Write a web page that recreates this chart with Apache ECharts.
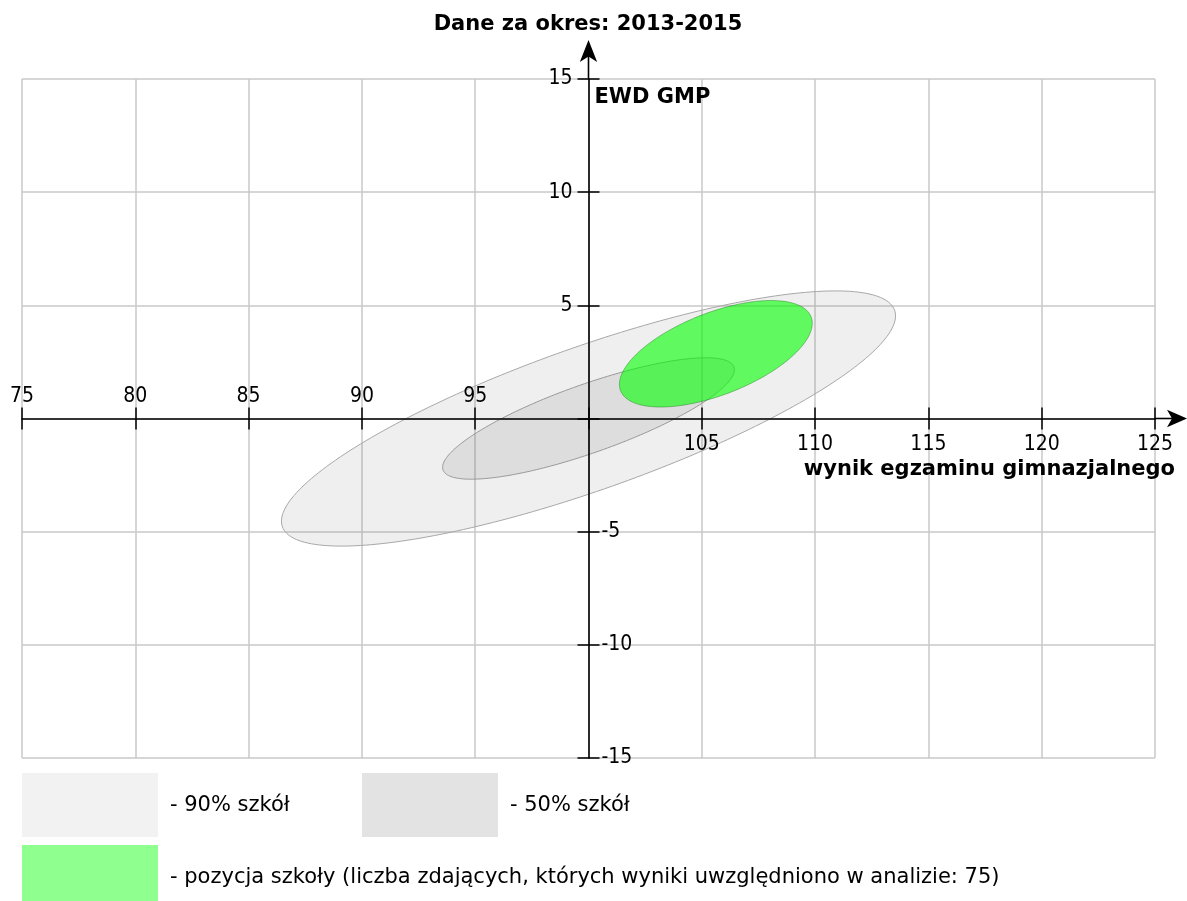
<!DOCTYPE html>
<html><head><meta charset="utf-8">
<script src="https://cdn.jsdelivr.net/npm/echarts@6/dist/echarts.min.js"></script>
<style>html,body{margin:0;padding:0;background:#fff}#c{width:1187px;height:901px}</style>
</head><body><div id="c"></div>
<script>
const chartTitle = 'Dane za okres: 2013-2015';
const xAxisName = 'wynik egzaminu gimnazjalnego';
const yAxisName = 'EWD GMP';
const xTicks = [75, 80, 85, 90, 95, 100, 105, 110, 115, 120, 125];
const yTicks = [-15, -10, -5, 0, 5, 10, 15];
const xCross = 100;
const yCross = 0;
const ellipseNames = ['90% szkół', '50% szkół', 'pozycja szkoły'];
const ellipseCenterX = [100, 100, 105.62];
const ellipseCenterY = [0, 0, 2.86];
const ellipseSemiMajor = [14.33, 6.81, 4.51];
const ellipseSemiMinor = [3.165, 1.51, 1.82];
const ellipseAngleDeg = [19.5, 19.5, 21.2];
const legendLabels = ['- 90% szkół', '- 50% szkół', '- pozycja szkoły (liczba zdających, których wyniki uwzględniono w analizie: 75)'];

const FONT = "'DejaVu Sans Condensed', 'DejaVu Sans', sans-serif";
const FONT_R = "'DejaVu Sans', sans-serif";
const GRID = {left: 22, top: 79, width: 1133, height: 679};
const xMin = xTicks[0], xMax = xTicks[xTicks.length - 1];
const yMin = yTicks[0], yMax = yTicks[yTicks.length - 1];
const step = xTicks[1] - xTicks[0];
const yStep = yTicks[1] - yTicks[0];
const yAxisOffset = -GRID.width * (xCross - xMin) / (xMax - xMin);
const xAxisOffset = -GRID.height * (yCross - yMin) / (yMax - yMin);

const chart = echarts.init(document.getElementById('c'), null, {renderer: 'canvas'});

function ellipseSeries(i, fill, stroke) {
  return {
    type: 'custom', name: ellipseNames[i], coordinateSystem: 'cartesian2d',
    xAxisIndex: 0, yAxisIndex: 0, clip: false, silent: true, z: 2,
    data: [[ellipseCenterX[i], ellipseCenterY[i], ellipseSemiMajor[i], ellipseSemiMinor[i], ellipseAngleDeg[i]]],
    encode: {x: 0, y: 1},
    renderItem: function (params, api) {
      const cx = api.value(0), cy = api.value(1), a = api.value(2), b = api.value(3);
      const th = api.value(4) * Math.PI / 180;
      const pts = [];
      const N = 240;
      for (let k = 0; k < N; k++) {
        const t = k / N * 2 * Math.PI;
        const dx = a * Math.cos(t) * Math.cos(th) - b * Math.sin(t) * Math.sin(th);
        const dy = a * Math.cos(t) * Math.sin(th) + b * Math.sin(t) * Math.cos(th);
        pts.push(api.coord([cx + dx, cy + dy]));
      }
      return {type: 'polygon', shape: {points: pts}, style: {fill: fill, stroke: stroke, lineWidth: 1}};
    }
  };
}

const baseX = {type: 'value', min: xMin, max: xMax, interval: step, gridIndex: 0, position: 'bottom', offset: xAxisOffset};
const baseY = {type: 'value', min: yMin, max: yMax, interval: yStep, gridIndex: 0, position: 'left', offset: yAxisOffset};
const axisLineStyle = {color: '#000', width: 1.6};
const labelStyle = {color: '#000', fontSize: 21, fontFamily: FONT, showMinLabel: true, showMaxLabel: true};

const option = {
  animation: false,
  backgroundColor: '#fff',
  grid: {left: GRID.left, top: GRID.top, width: GRID.width, height: GRID.height, containLabel: false},
  xAxis: [
    {type: 'value', min: xMin, max: xMax, interval: step, gridIndex: 0, position: 'bottom',
      z: 0, axisLine: {show: false}, axisTick: {show: false}, axisLabel: {show: false},
      splitLine: {show: true, lineStyle: {color: '#c8c8c8', width: 1.5}}},
    Object.assign({}, baseX, {
      z: 5, axisLine: {show: true, onZero: false, lineStyle: axisLineStyle, symbol: ['none', 'arrow'], symbolSize: [13, 20], symbolOffset: [0, 32]},
      axisTick: {show: true, inside: true, length: 11, lineStyle: {color: '#000', width: 1.5}},
      axisLabel: Object.assign({}, labelStyle, {inside: true, margin: 11, formatter: v => (v < xCross ? String(v) : '')}),
      splitLine: {show: false}
    }),
    Object.assign({}, baseX, {
      z: 5, axisLine: {show: false, onZero: false},
      axisTick: {show: true, inside: false, length: 11, lineStyle: {color: '#000', width: 1.5}},
      axisLabel: Object.assign({}, labelStyle, {inside: false, margin: 16, formatter: v => (v > xCross ? String(v) : '')}),
      splitLine: {show: false}
    })
  ],
  yAxis: [
    {type: 'value', min: yMin, max: yMax, interval: yStep, gridIndex: 0, position: 'left',
      z: 0, axisLine: {show: false}, axisTick: {show: false}, axisLabel: {show: false},
      splitLine: {show: true, lineStyle: {color: '#c8c8c8', width: 1.5}}},
    Object.assign({}, baseY, {
      z: 5, axisLine: {show: true, onZero: false, lineStyle: axisLineStyle, symbol: ['none', 'arrow'], symbolSize: [13, 22], symbolOffset: [0, 39]},
      axisTick: {show: true, inside: false, length: 11, lineStyle: {color: '#000', width: 1.5}},
      axisLabel: Object.assign({}, labelStyle, {inside: false, margin: 16, padding: [4, 0, 0, 0], formatter: v => (v > yCross ? String(v) : '')}),
      splitLine: {show: false},
      name: yAxisName, nameLocation: 'end', nameGap: -8,
      nameTextStyle: {fontFamily: FONT_R, fontWeight: 'bold', fontSize: 21, color: '#000', align: 'left', verticalAlign: 'top', padding: [0, 0, 0, 6]}
    }),
    Object.assign({}, baseY, {
      z: 5, axisLine: {show: false, onZero: false},
      axisTick: {show: true, inside: true, length: 11, lineStyle: {color: '#000', width: 1.5}},
      axisLabel: Object.assign({}, labelStyle, {inside: true, margin: 13, padding: [4, 0, 0, 0], formatter: v => (v < yCross ? String(v) : '')}),
      splitLine: {show: false}
    })
  ],
  title: {
    text: chartTitle, left: 583, top: 9, textAlign: 'center',
    textStyle: {fontFamily: FONT_R, fontWeight: 'bold', fontSize: 21, color: '#000'}
  },
  series: [
    ellipseSeries(0, 'rgba(100,100,100,0.10)', '#a8a8a8'),
    ellipseSeries(1, 'rgba(100,100,100,0.13)', '#9a9a9a'),
    ellipseSeries(2, 'rgba(0,255,0,0.6)', 'rgba(0,90,0,0.35)')
  ]
};
chart.setOption(option);

const pEndX = chart.convertToPixel({xAxisIndex: 1, yAxisIndex: 0}, [xMax, yCross]);
const pEndY = chart.convertToPixel({xAxisIndex: 1, yAxisIndex: 1}, [xCross, yMax]);
const yAxisPx = GRID.left - yAxisOffset;
chart.setOption({
  graphic: [
    {type: 'line', z: 10, shape: {x1: pEndX[0], y1: pEndX[1], x2: pEndX[0] + 26, y2: pEndX[1]}, style: {stroke: '#000', lineWidth: 1.6}},
    {type: 'line', z: 10, shape: {x1: yAxisPx, y1: pEndY[1], x2: yAxisPx, y2: pEndY[1] - 32}, style: {stroke: '#000', lineWidth: 1.6}},
    {type: 'text', z: 10, style: {text: xAxisName, x: 1175, y: 470, align: 'right', verticalAlign: 'middle', font: 'bold 21px ' + FONT_R, fill: '#000'}},
    {type: 'rect', shape: {x: 22, y: 773, width: 136, height: 64}, style: {fill: '#f2f2f2'}},
    {type: 'rect', shape: {x: 362, y: 773, width: 136, height: 64}, style: {fill: '#e3e3e3'}},
    {type: 'rect', shape: {x: 22, y: 845, width: 136, height: 60}, style: {fill: '#8fff8f'}},
    {type: 'text', style: {text: legendLabels[0], x: 170, y: 806, verticalAlign: 'middle', font: '21px ' + FONT_R, fill: '#000'}},
    {type: 'text', style: {text: legendLabels[1], x: 510, y: 806, verticalAlign: 'middle', font: '21px ' + FONT_R, fill: '#000'}},
    {type: 'text', style: {text: legendLabels[2], x: 170, y: 878, verticalAlign: 'middle', font: '21px ' + FONT_R, fill: '#000'}}
  ]
});
</script>
</body></html>
